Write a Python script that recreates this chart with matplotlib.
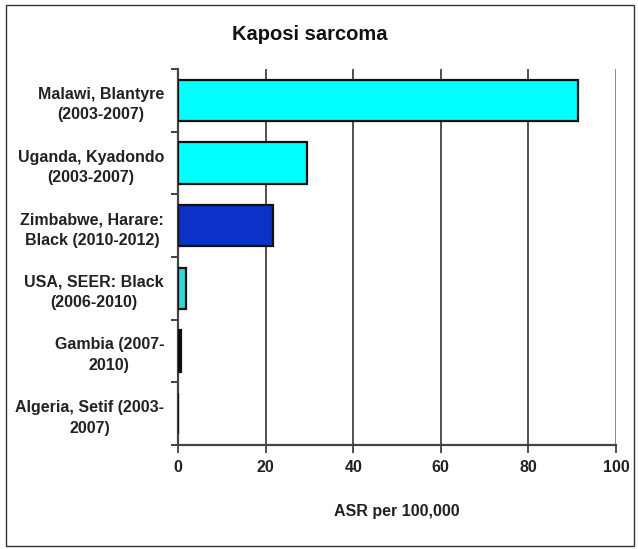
import matplotlib
matplotlib.use("Agg")
import matplotlib.pyplot as plt
from matplotlib.patches import Rectangle
import numpy as np

plt.rcParams['font.family'] = ['Liberation Sans', 'DejaVu Sans']

categories = ["Malawi, Blantyre\n(2003-2007)",
              "Uganda, Kyadondo\n(2003-2007)",
              "Zimbabwe, Harare:\nBlack (2010-2012)",
              "USA, SEER: Black\n(2006-2010)",
              "Gambia (2007-\n2010)",
              "Algeria, Setif (2003-\n2007)"]
values = [91.3, 29.5, 21.7, 1.8, 0.6, 0.0]
colors = ["#00FFFF", "#00FFFF", "#0A32C8", "#33D6D6", "#000000", "#00FFFF"]
xticks = [0, 20, 40, 60, 80, 100]

fig = plt.figure(figsize=(6.38, 5.49), dpi=100)
ax = fig.add_axes([178/638, 1-445/549, (616-178)/638, (445-69)/549])

y = np.arange(len(categories))
ax.barh(y, values, height=0.66, color=colors, edgecolor="#111111", linewidth=1.6, zorder=3)
ax.set_ylim(len(categories)-0.5, -0.5)
ax.set_xlim(0, 100)

ax.set_xticks(xticks)
ax.set_xticklabels([str(t) for t in xticks], fontsize=11.5, fontweight='bold', color="#222222")
ax.set_yticks(y)
ax.set_yticklabels(categories, fontsize=11.5, fontweight='bold', color="#222222",
                   multialignment='center', linespacing=1.45)
ax.set_yticks(np.arange(-0.5, len(categories), 1.0), minor=True)
ax.tick_params(axis='y', which='major', length=0, pad=10)
ax.tick_params(axis='y', which='minor', length=5, width=1.3, color="#333333")
ax.tick_params(axis='x', which='major', length=6, width=1.2, color="#333333", pad=5)

for t in xticks[1:]:
    ax.axvline(t, color="#333333" if t < 100 else "#777777", linewidth=1.2, zorder=1)

for s in ['top', 'right']:
    ax.spines[s].set_visible(False)
for s in ['left', 'bottom']:
    ax.spines[s].set_color("#444444")
    ax.spines[s].set_linewidth(1.6)

ax.set_xlabel("ASR per 100,000", fontsize=11.5, fontweight='bold', color="#222222", labelpad=21)
fig.text(310/638, 1-35/549, "Kaposi sarcoma", fontsize=14.5, fontweight='bold', ha='center', va='center', color="#111111")

fig.patches.append(Rectangle((6/638, 3/549), 628/638, 541/549, transform=fig.transFigure,
                             fill=False, edgecolor="#333333", linewidth=1.0))

fig.savefig("out.png", dpi=100)
